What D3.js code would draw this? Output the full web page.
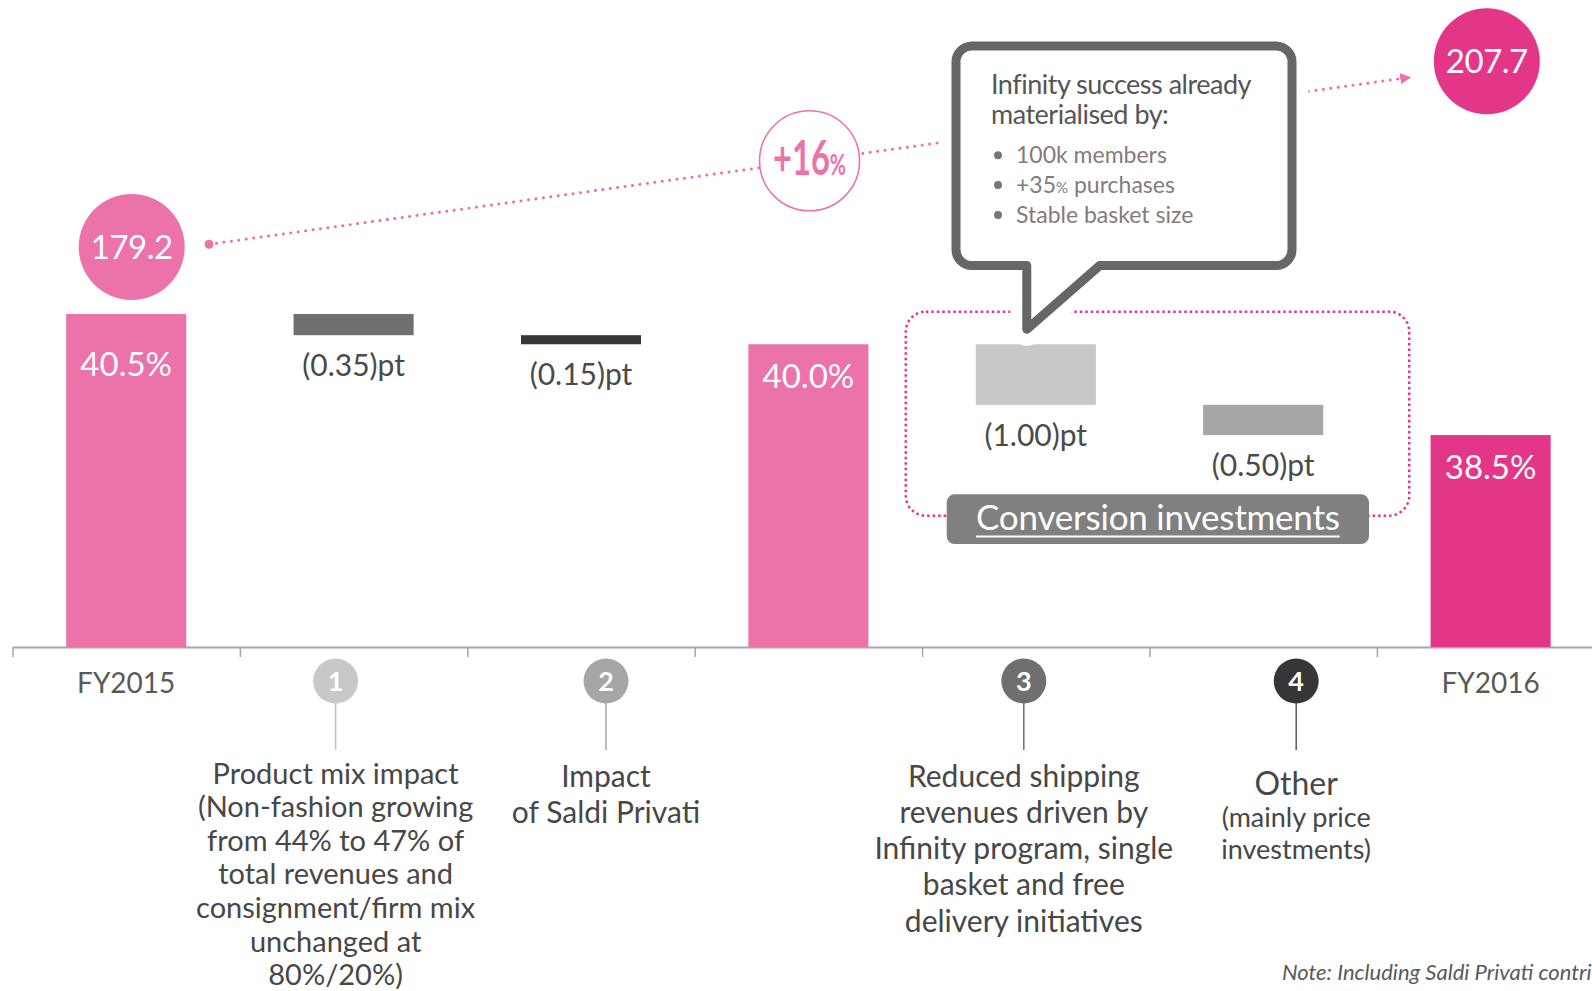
<!DOCTYPE html>
<html>
<head>
<meta charset="utf-8">
<script src="https://cdn.jsdelivr.net/npm/d3@7"></script>
<style>
  html, body { margin: 0; padding: 0; background: #fff; overflow: hidden; }
  svg { display: block; }
  text { font-family: Lato, "Open Sans", "DejaVu Sans", sans-serif; }
</style>
</head>
<body>
<svg id="chart" width="1592" height="991"></svg>
<script>
// ---- Data -------------------------------------------------------------
const steps      = ["FY2015", "Product mix", "Saldi Privati", "Subtotal", "Shipping", "Other", "FY2016"];
const stepTypes  = ["total", "delta", "delta", "total", "delta", "delta", "total"];
const stepValues = [40.5, -0.35, -0.15, 40.0, -1.00, -0.50, 38.5];   // gross margin, % / pt
const axisLabels = ["FY2015", "", "", "", "", "", "FY2016"];
const badgeNumbers = ["", "1", "2", "", "3", "4", ""];
const stepNotes = [
  [],
  ["Product mix impact", "(Non-fashion growing", "from 44% to 47% of", "total revenues and",
   "consignment/firm mix", "unchanged at", "80%/20%)"],
  ["Impact", "of Saldi Privati"],
  [],
  ["Reduced shipping", "revenues driven by", "Infinity program, single", "basket and free",
   "delivery initiatives"],
  ["Other", "(mainly price", "investments)"],
  []
];
const revenueYears  = ["FY2015", "FY2016"];
const revenueValues = [179.2, 207.7];
const calloutTitle   = ["Infinity success already", "materialised by:"];
const calloutBullets = [["100k members", ""], ["+35", "%", " purchases"], ["Stable basket size", ""]];
const groupLabel  = "Conversion investments";
const groupSteps  = ["Shipping", "Other"];
const footnote    = "Note: Including Saldi Privati contribution";

// ---- Styles -----------------------------------------------------------
const PINK = "#EC72AA", PINK_DARK = "#E43689";
const barColors   = [PINK, "#6F6F6F", "#363636", PINK, "#C8C8C8", "#A6A6A6", PINK_DARK];
const badgeColors = ["", "#C8C8C8", "#A6A6A6", "", "#6F6F6F", "#363636", ""];
const stemColors  = ["", "#BFBFBF", "#A6A6A6", "", "#6F6F6F", "#595959", ""];
const TEXT = "#474747";

// ---- Scales -----------------------------------------------------------
const svg = d3.select("#chart");
const x = d3.scaleBand().domain(steps).range([12.5, 1604.3]).paddingInner(0.472).paddingOuter(0.236);
const y = d3.scaleLinear().domain([35, 40.5]).range([647, 314]);
const boundary = d3.scaleLinear().domain([0, steps.length]).range(x.range());
const cx = s => x(s) + x.bandwidth() / 2;
const revY = d3.scaleLinear().domain(revenueValues).range([247, 61.3]);

// waterfall extents
let running = 0;
const rows = steps.map((s, i) => {
  const v = stepValues[i];
  let lo, hi;
  if (stepTypes[i] === "total") { lo = y.domain()[0]; hi = v; running = v; }
  else { lo = running + v; hi = running; running += v; }
  return { step: s, i, value: v, type: stepTypes[i], lo, hi };
});

// ---- Axis -------------------------------------------------------------
const axis = svg.append("g").attr("transform", `translate(0,${y(35)})`)
  .call(d3.axisBottom(boundary).tickValues(d3.range(steps.length)).tickSize(10).tickSizeOuter(0).tickFormat(""));
axis.select(".domain").attr("stroke", "#A6A6A6").attr("stroke-width", 2);
axis.selectAll(".tick line").attr("stroke", "#A6A6A6").attr("stroke-width", 1.5);

svg.append("g").selectAll("text").data(steps.filter((s, i) => axisLabels[i])).join("text")
  .attr("x", s => cx(s)).attr("y", 692.5).attr("text-anchor", "middle")
  .attr("font-size", 28).attr("fill", "#595959")
  .text(s => axisLabels[steps.indexOf(s)]);

// ---- Group frame (conversion investments) -------------------------------
const gx0 = x(groupSteps[0]) - 70, gx1 = x(groupSteps[1]) + x.bandwidth() + 86;
svg.append("rect").attr("x", gx0).attr("y", 311.7).attr("width", gx1 - gx0).attr("height", 204)
  .attr("rx", 20).attr("fill", "none").attr("stroke", PINK_DARK)
  .attr("stroke-width", 2.5).attr("stroke-dasharray", "2.5 3");

// ---- Bars -------------------------------------------------------------
svg.append("g").selectAll("rect").data(rows).join("rect")
  .attr("x", d => x(d.step)).attr("width", x.bandwidth())
  .attr("y", d => y(d.hi)).attr("height", d => y(d.lo) - y(d.hi))
  .attr("fill", d => barColors[d.i]);

const fmtTotal = v => d3.format(".1f")(v) + "%";
const fmtDelta = v => "(" + d3.format(".2f")(Math.abs(v)) + ")pt";

svg.append("g").selectAll("text").data(rows.filter(d => d.type === "total")).join("text")
  .attr("x", d => cx(d.step)).attr("y", d => y(d.hi) + (d.i === 0 ? 62 : 44))
  .attr("text-anchor", "middle").attr("font-size", 33).attr("fill", "#fff")
  .text(d => fmtTotal(d.value));

svg.append("g").selectAll("text").data(rows.filter(d => d.type === "delta")).join("text")
  .attr("x", d => cx(d.step)).attr("y", d => y(d.lo) + 41)
  .attr("text-anchor", "middle").attr("font-size", 30).attr("fill", "#4A4A4A")
  .text(d => fmtDelta(d.value));

// ---- Revenue trend ------------------------------------------------------
const R = 53;
const revShift = [5.5, -3.8];
const rev = revenueYears.map((yr, i) => ({ yr, v: revenueValues[i], x: cx(yr) + revShift[i], y: revY(revenueValues[i]) }));
const p0 = { x: rev[0].x + R + 24.3, y: rev[0].y - 2.7 };
const p1 = { x: rev[1].x - R - 23.7, y: rev[1].y + 16 };

const defs = svg.append("defs");
defs.append("marker").attr("id", "arrow").attr("viewBox", "0 0 10 10")
  .attr("refX", 9).attr("refY", 5).attr("markerWidth", 11).attr("markerHeight", 11)
  .attr("markerUnits", "userSpaceOnUse").attr("orient", "auto")
  .append("path").attr("d", "M0,0 L10,5 L0,10 Z").attr("fill", PINK);

svg.append("line").attr("x1", p0.x).attr("y1", p0.y).attr("x2", p1.x).attr("y2", p1.y)
  .attr("stroke", PINK).attr("stroke-width", 3).attr("stroke-linecap", "round")
  .attr("stroke-dasharray", "0.1 7.4").attr("marker-end", "url(#arrow)");
svg.append("circle").attr("cx", p0.x).attr("cy", p0.y).attr("r", 4.5).attr("fill", PINK);

svg.append("g").selectAll("circle").data(rev).join("circle")
  .attr("cx", d => d.x).attr("cy", d => d.y).attr("r", R)
  .attr("fill", (d, i) => i === 0 ? PINK : PINK_DARK);
svg.append("g").selectAll("text").data(rev).join("text")
  .attr("x", d => d.x).attr("y", d => d.y + 12).attr("text-anchor", "middle")
  .attr("font-size", 33).attr("letter-spacing", -0.5).attr("fill", "#fff").text(d => d3.format(".1f")(d.v));

// growth badge sits at the midpoint of the trend line
const growth = Math.round((revenueValues[1] / revenueValues[0] - 1) * 100);
const mid = { x: (p0.x + p1.x) / 2, y: (p0.y + p1.y) / 2 };
svg.append("circle").attr("cx", mid.x).attr("cy", mid.y).attr("r", 50)
  .attr("fill", "#fff").attr("stroke", PINK).attr("stroke-width", 1.6);
const gt = svg.append("g").attr("transform", `translate(${mid.x},${mid.y + 14}) scale(0.68,1)`)
  .append("text").attr("text-anchor", "middle").attr("fill", PINK).attr("font-weight", 700);
gt.append("tspan").attr("font-size", 48).text((growth >= 0 ? "+" : "") + growth);
gt.append("tspan").attr("font-size", 29).text("%");

// ---- Callout ------------------------------------------------------------
const ship = rows[steps.indexOf("Shipping")];
const tip = { x: x(ship.step) + 51, y: y(ship.hi) - 15 };
const cb = { L: 956, T: 46, Rr: 1292, B: 265.5, r: 16 };
const calloutPath =
  `M${cb.L + cb.r},${cb.T} H${cb.Rr - cb.r} A${cb.r},${cb.r} 0 0 1 ${cb.Rr},${cb.T + cb.r} ` +
  `V${cb.B - cb.r} A${cb.r},${cb.r} 0 0 1 ${cb.Rr - cb.r},${cb.B} H${tip.x + 73} ` +
  `L${tip.x},${tip.y} V${cb.B} H${cb.L + cb.r} A${cb.r},${cb.r} 0 0 1 ${cb.L},${cb.B - cb.r} ` +
  `V${cb.T + cb.r} A${cb.r},${cb.r} 0 0 1 ${cb.L + cb.r},${cb.T} Z`;
svg.append("path").attr("d", calloutPath).attr("fill", "#fff").attr("stroke", "#fff")
  .attr("stroke-width", 33).attr("stroke-linejoin", "round");
svg.append("path").attr("d", calloutPath).attr("fill", "#fff").attr("stroke", "#666")
  .attr("stroke-width", 9).attr("stroke-linejoin", "round");

svg.append("g").selectAll("text").data(calloutTitle).join("text")
  .attr("x", 991).attr("y", (d, i) => 94.3 + i * 30).attr("font-size", 27)
  .attr("letter-spacing", -0.5).attr("fill", "#555")
  .text(d => d);
const bl = svg.append("g").selectAll("g").data(calloutBullets).join("g")
  .attr("transform", (d, i) => `translate(0,${163.3 + i * 29.8})`);
bl.append("circle").attr("cx", 998).attr("cy", -8).attr("r", 4).attr("fill", "#7F7374");
const bt = bl.append("text").attr("x", 1016).attr("font-size", 23).attr("fill", "#857A7C");
bt.each(function (d) {
  const t = d3.select(this);
  d.forEach((part, k) => t.append("tspan").attr("font-size", k === 1 ? 15 : 23).text(part));
});

// ---- Group label ---------------------------------------------------------
const lb = { x0: 946.7, x1: 1369, y0: 494.3, y1: 544 };
svg.append("rect").attr("x", lb.x0).attr("y", lb.y0).attr("width", lb.x1 - lb.x0)
  .attr("height", lb.y1 - lb.y0).attr("rx", 8).attr("fill", "#808080");
const glt = svg.append("text").attr("x", (lb.x0 + lb.x1) / 2).attr("y", 530)
  .attr("text-anchor", "middle").attr("font-size", 35).attr("letter-spacing", -0.2)
  .attr("fill", "#fff").text(groupLabel);
const gbb = glt.node().getBBox();
svg.append("line").attr("x1", gbb.x).attr("x2", gbb.x + gbb.width).attr("y1", 536.5).attr("y2", 536.5)
  .attr("stroke", "#fff").attr("stroke-width", 2);

// ---- Badges & notes ------------------------------------------------------
const noteLayout = {
  1: { dx: -18, sizes: [29], lh: [33.6], y0: 783.5 },
  2: { dx: 25,  sizes: [30], lh: [36],   y0: 786.7 },
  4: { dx: -12, sizes: [30], lh: [36.2], y0: 786.7 },
  5: { dx: 33,  sizes: [32, 27, 27], lh: [31.7, 32.6], y0: 795 }
};
steps.forEach((s, i) => {
  if (!badgeNumbers[i]) return;
  const L = noteLayout[i];
  const bx = cx(s) + L.dx, by = 681;
  svg.append("line").attr("x1", bx).attr("x2", bx).attr("y1", by + 20).attr("y2", 750)
    .attr("stroke", stemColors[i]).attr("stroke-width", 1.5);
  svg.append("circle").attr("cx", bx).attr("cy", by).attr("r", 22.5).attr("fill", badgeColors[i]);
  svg.append("text").attr("x", bx).attr("y", by + 10).attr("text-anchor", "middle")
    .attr("font-size", 27).attr("font-weight", 700).attr("fill", "#fff").text(badgeNumbers[i]);
  let yy = L.y0;
  stepNotes[i].forEach((line, k) => {
    svg.append("text").attr("x", bx).attr("y", yy).attr("text-anchor", "middle")
      .attr("font-size", L.sizes[Math.min(k, L.sizes.length - 1)]).attr("fill", TEXT).text(line);
    yy += L.lh[Math.min(k, L.lh.length - 1)];
  });
});

// ---- Footnote (runs past the right edge of the page) -----------------------
svg.append("text").attr("x", 1282).attr("y", 980).attr("font-size", 22).attr("font-style", "italic")
  .attr("fill", "#595959").text(footnote);
</script>
</body>
</html>
